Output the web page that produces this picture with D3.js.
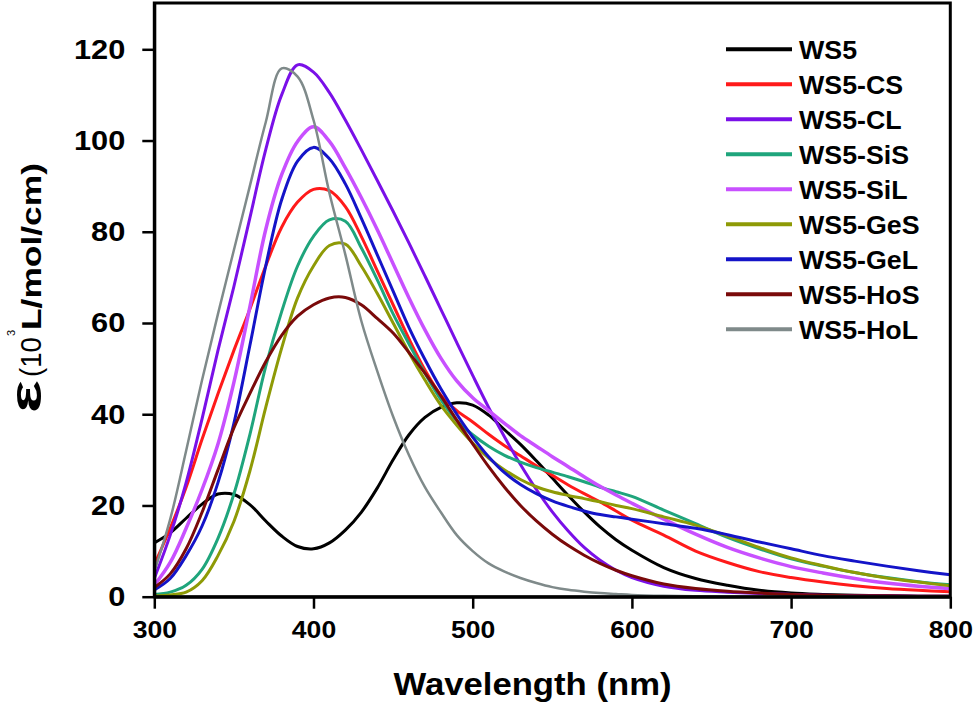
<!DOCTYPE html>
<html>
<head>
<meta charset="utf-8">
<script src="https://cdn.jsdelivr.net/npm/d3@7"></script>
<style>
  body { margin: 0; background: #fff; }
  svg { display: block; }
  text { font-family: "Liberation Sans", Arial, sans-serif; }
</style>
</head>
<body>
<svg id="grafico"></svg>
<script>
// wavelength grid (nm)
const wavelengths = [300, 310, 320, 330, 340, 350, 360, 370, 380, 390, 400, 410, 420, 430, 440, 450,
  460, 470, 480, 490, 500, 510, 520, 530, 540, 550, 560, 570, 580, 590, 600,
  620, 640, 660, 680, 700, 720, 740, 760, 780, 800];

// molar absorptivity (10^3 L/mol/cm)
const ws5 = [11.8, 14, 17.2, 20.3, 22.5, 22.4, 20.2, 16.6, 13.3, 11, 10.5, 11.8, 14.6, 18.5, 23.8, 30,
  35.5, 39.3, 41.5, 42.5, 42, 39.8, 36.6, 33.4, 29.8, 26, 22.2, 18.6, 15.3, 12.5, 10.2,
  6.4, 4, 2.5, 1.4, 0.8, 0.5, 0.3, 0.2, 0.1, 0.1];
const ws5CS = [7, 15, 24, 34.5, 44.5, 54, 63, 72.5, 81, 86.5, 89.3, 89, 85.5, 79, 71.5, 64,
  56.5, 49.7, 44.2, 40.8, 38.3, 35.6, 33.1, 30.9, 28.7, 26.6, 24.5, 22.6, 20.8, 18.8, 16.8,
  13.5, 10, 7.5, 5.5, 4.2, 3.2, 2.4, 1.8, 1.4, 1.1];
const ws5CL = [4, 13.5, 25, 39, 54, 68, 83, 98, 110, 116.6, 115, 110.5, 104.5, 98, 91.3, 84.5,
  77.5, 70.3, 63, 55.7, 48.5, 41.5, 35, 29, 23.5, 18.6, 14.4, 10.8, 8, 5.8, 4.2,
  2.3, 1.4, 1, 0.7, 0.5, 0.3, 0.2, 0.2, 0.1, 0.1];
const ws5SiS = [0.5, 1, 2.5, 6, 12.8, 22.5, 35.5, 50.5, 62.5, 72.5, 79, 82.6, 82.3, 76.5, 69.5, 62,
  55.4, 49, 43.2, 38.6, 35.5, 33, 31, 29.5, 28.3, 27.3, 26.3, 25.2, 24, 23, 22,
  19, 16, 13, 10.5, 8.3, 6.7, 5.3, 4.2, 3.3, 2.6];
const ws5SiL = [2.5, 7.5, 15, 23.5, 33.5, 47, 63.5, 80.5, 92.5, 99.8, 103, 99.8, 94, 87.5, 80.5, 73,
  65.5, 58.5, 52.3, 47.3, 43.6, 40.8, 38, 35.3, 33, 30.7, 28.5, 26.3, 24.2, 22.3, 20.5,
  17, 13.7, 10.8, 8.5, 6.6, 5.2, 4, 3, 2.3, 1.8];
const ws5GeS = [0.2, 0.4, 1, 3.5, 9, 16.5, 27.5, 41.5, 54.5, 65.5, 72.5, 77, 77.3, 72.5, 66.5, 60,
  53.5, 47.5, 42, 37.6, 33.7, 30.4, 27.8, 25.7, 24.1, 23, 22.2, 21.5, 20.8, 20, 19.3,
  17.5, 15.7, 13.3, 10.8, 8.5, 6.8, 5.3, 4.1, 3.2, 2.4];
const ws5GeL = [1.5, 4, 9, 15.5, 25, 38, 55, 72.5, 87, 95.5, 98.5, 96, 90.5, 83, 75, 67,
  59, 52, 45.6, 40, 35, 30.7, 27.2, 24.6, 22.6, 21, 19.8, 18.8, 18, 17.5, 17,
  16, 15, 13.6, 12, 10.5, 9, 7.8, 6.7, 5.7, 4.8];
const ws5HoS = [2, 5, 10.5, 18.5, 27.8, 37, 44.5, 51.5, 57.3, 61.5, 64, 65.5, 65.6, 64, 61, 57.8,
  53.5, 49, 44, 38.7, 33.5, 28.5, 24, 20, 16.6, 13.7, 11.2, 9.1, 7.3, 5.8, 4.6,
  2.8, 1.8, 1.2, 0.8, 0.5, 0.3, 0.2, 0.2, 0.1, 0.1];
const ws5HoL = [5.5, 17, 32, 47.5, 62, 76, 90, 104, 115.8, 114, 104.5, 88.5, 75, 60.5, 49.5, 39.5,
  31, 24, 18.5, 13.5, 10, 7.3, 5.5, 4.1, 3, 2.1, 1.5, 1.1, 0.8, 0.6, 0.4,
  0.2, 0.1, 0, 0, 0, 0, 0, 0, 0, 0];

const seriesNames = ['WS5', 'WS5-CS', 'WS5-CL', 'WS5-SiS', 'WS5-SiL', 'WS5-GeS', 'WS5-GeL', 'WS5-HoS', 'WS5-HoL'];
const seriesValues = [ws5, ws5CS, ws5CL, ws5SiS, ws5SiL, ws5GeS, ws5GeL, ws5HoS, ws5HoL];
const seriesColors = ['#000000', '#ff1a1a', '#7a10e8', '#1fa57c', '#c850ff', '#8e9a06', '#1414c8', '#7a0a0a', '#7f8a8a'];
const seriesWidths = [3, 3, 3, 3, 3.5, 3, 3, 3, 2.5];

const xTicks = [300, 400, 500, 600, 700, 800];
const yTicks = [0, 20, 40, 60, 80, 100, 120];

const largura = 977, altura = 707;
const margem = { esquerda: 154.3, direita: 26.7, superior: 3, inferior: 110.3 };
const larguraPlotagem = largura - margem.esquerda - margem.direita;
const alturaPlotagem = altura - margem.superior - margem.inferior;

const svg = d3.select('#grafico').attr('width', largura).attr('height', altura);

// stretch text horizontally by factor k (the figure's font is wider than Arial)
function estique(sel, k) {
  sel.each(function () {
    const w = this.getComputedTextLength();
    d3.select(this).attr('textLength', w * k).attr('lengthAdjust', 'spacingAndGlyphs');
  });
}

const fnX = d3.scaleLinear().domain([300, 800]).range([0, larguraPlotagem]);
const fnY = d3.scaleLinear().domain([0, 130.15]).range([alturaPlotagem, 0]);

const plotagem = svg.append('g')
  .attr('transform', 'translate(' + margem.esquerda + ',' + margem.superior + ')');

plotagem.append('clipPath').attr('id', 'recorte')
  .append('rect').attr('width', larguraPlotagem).attr('height', alturaPlotagem);

const linha = d3.line()
  .x((d) => fnX(d[0]))
  .y((d) => fnY(Math.max(0, d[1])))
  .curve(d3.curveCatmullRom.alpha(0.5));

plotagem.append('g').attr('clip-path', 'url(#recorte)')
  .selectAll('path')
  .data(seriesValues)
  .enter()
  .append('path')
  .attr('d', (vals) => linha(wavelengths.map((w, i) => [w, vals[i]])))
  .attr('fill', 'none')
  .attr('stroke', (d, i) => seriesColors[i])
  .attr('stroke-width', (d, i) => seriesWidths[i])
  .attr('stroke-linejoin', 'round');

// frame
plotagem.append('rect')
  .attr('width', larguraPlotagem).attr('height', alturaPlotagem)
  .attr('fill', 'none').attr('stroke', '#000').attr('stroke-width', 3);

const eixoX = d3.axisBottom(fnX).tickValues(xTicks).tickSize(12).tickSizeOuter(0).tickPadding(13);
const gX = plotagem.append('g').attr('transform', 'translate(0,' + alturaPlotagem + ')').call(eixoX);
const eixoY = d3.axisLeft(fnY).tickValues(yTicks).tickSize(12).tickSizeOuter(0).tickPadding(17);
const gY = plotagem.append('g').call(eixoY);

[gX, gY].forEach((g) => {
  g.select('.domain').attr('stroke-width', 3);
  g.selectAll('.tick line').attr('stroke-width', 2.5);
  g.selectAll('.tick text').attr('fill', '#000').style('font-weight', 'bold');
});
gX.selectAll('.tick text').style('font-size', '23.5px');
gY.selectAll('.tick text').style('font-size', '28px').attr('dy', '0.32em');
estique(gX.selectAll('.tick text'), 1.13);
estique(gY.selectAll('.tick text'), 1.1);

// legend
const legenda = svg.append('g');
seriesNames.forEach((nome, i) => {
  const cy = 49.3 + i * 35;
  legenda.append('line')
    .attr('x1', 726).attr('x2', 792).attr('y1', cy).attr('y2', cy)
    .attr('stroke', seriesColors[i]).attr('stroke-width', 4);
  legenda.append('text')
    .attr('x', 799).attr('y', cy + 9.2)
    .style('font-size', '25.5px').style('font-weight', 'bold')
    .text(nome);
});
estique(legenda.selectAll('text'), 1.05);

// axis titles
svg.append('text')
  .attr('x', 532.5).attr('y', 695)
  .style('text-anchor', 'middle').style('font-size', '31px').style('font-weight', 'bold')
  .attr('textLength', 278).attr('lengthAdjust', 'spacingAndGlyphs')
  .text('Wavelength (nm)');

const tituloY = svg.append('g').attr('transform', 'translate(41,413) rotate(-90)');
tituloY.append('text').attr('x', 0).attr('y', 0)
  .style('font-size', '45px').style('font-weight', 'bold')
  .attr('textLength', 33).attr('lengthAdjust', 'spacingAndGlyphs')
  .text('\u03B5');
tituloY.append('text').attr('x', 36).attr('y', 0)
  .style('font-size', '30px')
  .attr('textLength', 40).attr('lengthAdjust', 'spacingAndGlyphs')
  .text('(10');
tituloY.append('text').attr('x', 77).attr('y', -26)
  .style('font-size', '11px')
  .text('3');
tituloY.append('text').attr('x', 83).attr('y', 0)
  .style('font-size', '28px').style('font-weight', 'bold')
  .attr('textLength', 167).attr('lengthAdjust', 'spacingAndGlyphs')
  .text('L/mol/cm)');
</script>
</body>
</html>
